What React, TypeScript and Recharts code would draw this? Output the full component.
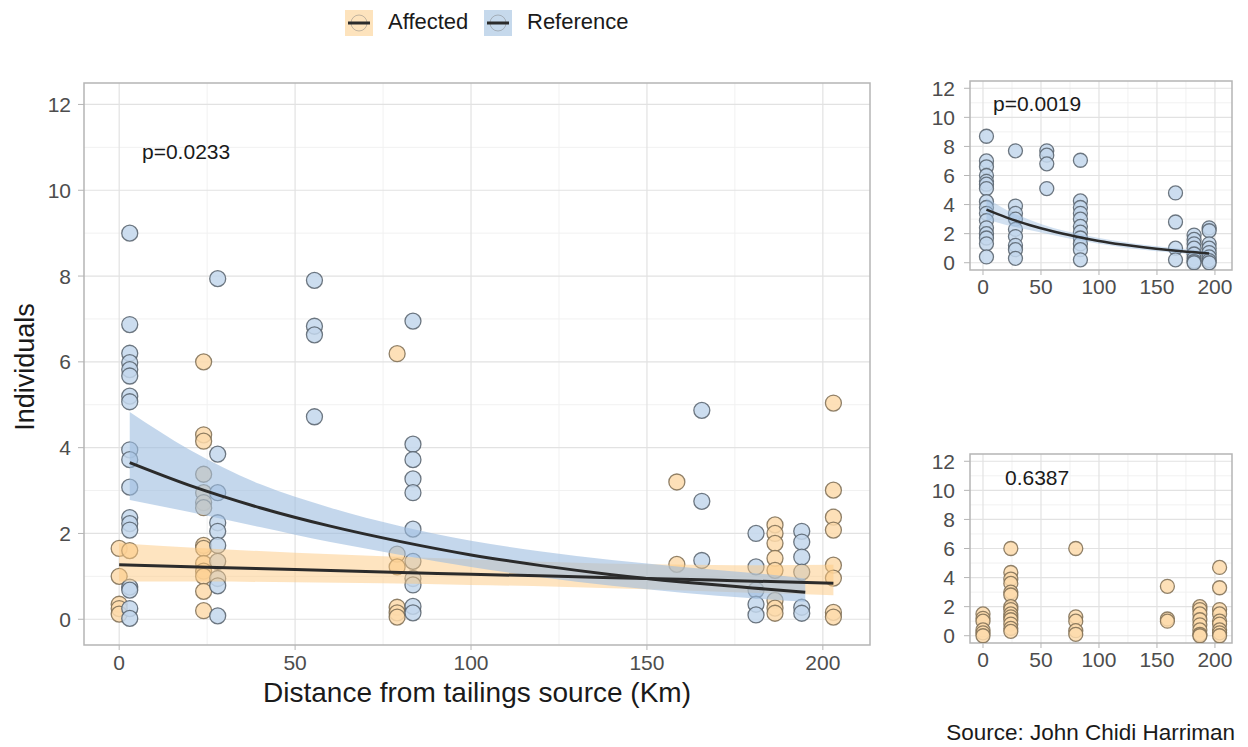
import { ComposedChart, Scatter, Line, Area, XAxis, YAxis, CartesianGrid, ReferenceArea } from 'recharts'

const FONT = '"Liberation Sans", Arial, Helvetica, sans-serif'

const xTicks = [0, 50, 100, 150, 200]
const xMinor = [25, 75, 125, 175]
const yTicks = [0, 2, 4, 6, 8, 10, 12]
const yMinor = [1, 3, 5, 7, 9, 11]

// main panel, reference sites (distance -> counts)
const refSites = [3, 28, 55.5, 83.5, 165.6, 181, 194]
const refValues = [
  [9.0, 6.87, 6.2, 5.98, 5.82, 5.67, 5.2, 5.07, 3.95, 3.72, 3.08, 2.37, 2.23, 2.08, 0.75, 0.68, 0.25, 0.02],
  [7.94, 3.85, 2.95, 2.25, 2.05, 1.72, 1.35, 0.95, 0.78, 0.08],
  [7.9, 6.83, 6.63, 4.72],
  [6.95, 4.08, 3.72, 3.27, 2.95, 2.1, 1.35, 0.95, 0.8, 0.3, 0.15],
  [4.87, 2.75, 1.37],
  [2.0, 1.22, 0.68, 0.35, 0.1],
  [2.05, 1.8, 1.45, 1.1, 0.28, 0.14],
]

// main panel, affected sites
const affSites = [0, 3, 24, 79, 158.5, 186.4, 203]
const affValues = [
  [1.65, 1.0, 0.35, 0.25, 0.12],
  [1.6],
  [6.0, 4.3, 4.15, 3.38, 2.95, 2.72, 2.6, 1.72, 1.65, 1.3, 1.12, 1.0, 0.65, 0.2],
  [6.19, 1.52, 1.22, 0.28, 0.15, 0.05],
  [3.2, 1.28],
  [2.2, 2.0, 1.77, 1.42, 1.14, 0.44, 0.26, 0.14],
  [5.04, 3.01, 2.38, 2.08, 1.26, 0.96, 0.16, 0.05],
]

// fitted curves + confidence bands
const refFitD = [3, 20, 40, 60, 80, 100, 120, 140, 160, 180, 195]
const refFit = [3.65, 3.12, 2.6, 2.17, 1.81, 1.5, 1.25, 1.04, 0.87, 0.73, 0.63]
const refLow = [2.78, 2.5, 2.15, 1.8, 1.5, 1.22, 0.98, 0.78, 0.62, 0.49, 0.41]
const refHigh = [4.83, 3.95, 3.15, 2.6, 2.17, 1.83, 1.58, 1.38, 1.22, 1.08, 0.95]

const affFitD = [0, 25, 50, 75, 100, 125, 150, 175, 203]
const affFit = [1.27, 1.21, 1.16, 1.1, 1.05, 1.0, 0.95, 0.9, 0.84]
const affLow = [0.88, 0.88, 0.86, 0.84, 0.8, 0.76, 0.7, 0.63, 0.56]
const affHigh = [1.77, 1.65, 1.55, 1.47, 1.4, 1.33, 1.28, 1.26, 1.27]

// top-right panel (reference only)
const refSmallSites = [3, 28, 55, 84, 166, 182, 195]
const refSmallValues = [
  [8.7, 7.0, 6.6, 6.0, 5.6, 5.4, 5.1, 4.2, 3.8, 3.4, 2.9, 2.4, 2.0, 1.7, 1.3, 0.4],
  [7.7, 3.9, 3.4, 3.0, 2.3, 1.8, 1.2, 0.9, 0.3],
  [7.7, 7.4, 6.8, 5.1],
  [7.05, 4.25, 3.8, 3.4, 3.0, 2.5, 2.1, 1.7, 1.3, 0.9, 0.2],
  [4.8, 2.8, 1.0, 0.2],
  [1.9, 1.6, 1.3, 1.0, 0.6, 0.3, 0.1, 0.0],
  [2.4, 2.2, 1.3, 1.0, 0.7, 0.4, 0.15, 0.0],
]
const refSmallLow = [2.95, 2.6, 2.25, 1.9, 1.58, 1.3, 1.07, 0.88, 0.72, 0.58, 0.5]
const refSmallHigh = [4.45, 3.65, 2.95, 2.4, 2.02, 1.7, 1.45, 1.22, 1.05, 0.9, 0.8]

// bottom-right panel (affected only)
const affSmallSites = [0, 24, 80, 159, 187, 204]
const affSmallValues = [
  [1.5, 1.2, 1.0, 0.4, 0.2, 0.0],
  [6.0, 4.35, 3.9, 3.6, 3.0, 2.8, 2.0, 1.8, 1.5, 1.3, 1.1, 0.8, 0.5, 0.3],
  [6.0, 1.3, 1.0, 0.35, 0.1],
  [3.4, 1.15, 1.0],
  [2.0, 1.8, 1.5, 1.1, 0.75, 0.4, 0.1, 0.0],
  [4.7, 3.3, 1.8, 1.5, 1.0, 0.8, 0.4, 0.2, 0.0],
]

const REF_FILL = '#c3d7ec'
const REF_STROKE = '#56606b'
const AFF_FILL = '#fddbab'
const AFF_STROKE = '#7d6c52'

const points = (sites: number[], values: number[][]) =>
  sites.flatMap((d, i) => values[i].map(v => ({ d, v })))

const curve = (ds: number[], fit: number[], lo: number[], hi: number[]) =>
  ds.map((d, i) => ({ d, fit: fit[i], band: [lo[i], hi[i]] }))

const dot = (fill: string, stroke: string, r: number) => (p: any) => (
  <circle cx={p.cx} cy={p.cy} r={r} fill={fill} fillOpacity={0.85} stroke={stroke} strokeOpacity={0.85} strokeWidth={1.3} />
)

type Box = { left: number; top: number; right: number; bottom: number }

type PanelProps = {
  box: Box
  xDomain: [number, number]
  yDomain: [number, number]
  fontSize: number
  yTickMargin: number
  xTickMargin: number
  dots: any[]
  overlay: any[]
}

const W = 1248
const H = 747

function Panel({ box, xDomain, yDomain, fontSize, yTickMargin, xTickMargin, dots, overlay }: PanelProps) {
  const tick = { fill: '#4d4d4d', fontSize, fontFamily: FONT }
  const yW = 60
  const xH = 40
  return (
    <>
      <div style={{ position: 'absolute', left: 0, top: 0 }}>
        <ComposedChart width={W} height={H}
          margin={{ top: box.top, left: box.left - yW, right: W - box.right, bottom: H - box.bottom - xH }}>
          <CartesianGrid horizontalValues={yMinor} verticalValues={xMinor} stroke="#f1f1f1" strokeWidth={1} />
          <CartesianGrid horizontalValues={yTicks} verticalValues={xTicks} stroke="#e2e2e2" strokeWidth={1.2} />
          <XAxis type="number" dataKey="d" domain={xDomain} allowDataOverflow ticks={xTicks} interval={0}
            axisLine={false} tickLine={{ stroke: '#b5b5b5' }} tickSize={5} tickMargin={xTickMargin}
            height={xH} tick={tick} />
          <YAxis type="number" domain={yDomain} allowDataOverflow ticks={yTicks} interval={0}
            axisLine={false} tickLine={{ stroke: '#b5b5b5' }} tickSize={6} tickMargin={yTickMargin}
            width={yW} tick={tick} />
          {dots}
          <ReferenceArea x1={xDomain[0]} x2={xDomain[1]} y1={yDomain[0]} y2={yDomain[1]}
            fill="none" stroke="#b5b5b5" strokeWidth={1.5} ifOverflow="visible" />
        </ComposedChart>
      </div>
      {overlay.length > 0 && (
        <div style={{ position: 'absolute', left: 0, top: 0 }}>
          <ComposedChart width={W} height={H}
            margin={{ top: box.top, left: box.left, right: W - box.right, bottom: H - box.bottom }}>
            <XAxis type="number" dataKey="d" domain={xDomain} allowDataOverflow hide />
            <YAxis type="number" domain={yDomain} allowDataOverflow hide />
            {overlay}
          </ComposedChart>
        </div>
      )}
    </>
  )
}

export default function App() {
  const mainXDomain: [number, number] = [-10, 213.4]
  const mainYDomain: [number, number] = [-0.6, 12.5]
  const smallXDomain: [number, number] = [-11.2, 214.7]
  const smallYDomain: [number, number] = [-0.5, 12.5]

  const refPts = points(refSites, refValues)
  const affPts = points(affSites, affValues)
  const refCurve = curve(refFitD, refFit, refLow, refHigh)
  const affCurve = curve(affFitD, affFit, affLow, affHigh)
  const refSmallPts = points(refSmallSites, refSmallValues)
  const affSmallPts = points(affSmallSites, affSmallValues)
  const refSmallCurve = curve(refFitD, refFit, refSmallLow, refSmallHigh)

  const mainDots = [
    <Scatter key="ap" data={affPts} dataKey="v" shape={dot(AFF_FILL, AFF_STROKE, 8)} isAnimationActive={false} />,
    <Scatter key="rp" data={refPts} dataKey="v" shape={dot(REF_FILL, REF_STROKE, 8)} isAnimationActive={false} />,
  ]
  const mainOverlay = [
    <Area key="ab" data={affCurve} dataKey="band" type="monotone" fill="#fdca82" fillOpacity={0.5} stroke="none" isAnimationActive={false} />,
    <Line key="al" data={affCurve} dataKey="fit" type="monotone" stroke="#2b2b2b" strokeWidth={3} dot={false} isAnimationActive={false} />,
    <Area key="rb" data={refCurve} dataKey="band" type="monotone" fill="#9cbde0" fillOpacity={0.6} stroke="none" isAnimationActive={false} />,
    <Line key="rl" data={refCurve} dataKey="fit" type="monotone" stroke="#2b2b2b" strokeWidth={3} dot={false} isAnimationActive={false} />,
  ]

  const topDots = [
    <Scatter key="rp" data={refSmallPts} dataKey="v" shape={dot(REF_FILL, REF_STROKE, 7)} isAnimationActive={false} />,
  ]
  const topOverlay = [
    <Area key="rb" data={refSmallCurve} dataKey="band" type="monotone" fill="#9cbde0" fillOpacity={0.45} stroke="none" isAnimationActive={false} />,
    <Line key="rl" data={refSmallCurve} dataKey="fit" type="monotone" stroke="#2b2b2b" strokeWidth={2.5} dot={false} isAnimationActive={false} />,
  ]

  const bottomDots = [
    <Scatter key="ap" data={affSmallPts} dataKey="v" shape={dot(AFF_FILL, AFF_STROKE, 7)} isAnimationActive={false} />,
  ]

  const swatch = (fill: string) => (
    <svg width={28} height={26} style={{ display: 'block' }}>
      <rect width={28} height={26} fill={fill} />
      <circle cx={14} cy={13} r={8} fill="none" stroke="#7a7a7a" strokeOpacity={0.45} />
      <line x1={3} x2={25} y1={13} y2={13} stroke="#2b2b2b" strokeWidth={3} />
    </svg>
  )

  const text = { position: 'absolute' as const, fontFamily: FONT, color: '#1a1a1a', whiteSpace: 'nowrap' as const }

  return (
    <div style={{ position: 'absolute', left: 0, top: 0, width: W, height: H, background: '#fff', overflow: 'hidden' }}>
      <Panel box={{ left: 84, top: 83, right: 870, bottom: 645 }} xDomain={mainXDomain} yDomain={mainYDomain}
        fontSize={21} yTickMargin={7} xTickMargin={5} dots={mainDots} overlay={mainOverlay} />
      <Panel box={{ left: 970, top: 81, right: 1232, bottom: 270 }} xDomain={smallXDomain} yDomain={smallYDomain}
        fontSize={21} yTickMargin={9} xTickMargin={4} dots={topDots} overlay={topOverlay} />
      <Panel box={{ left: 970, top: 454, right: 1232, bottom: 643 }} xDomain={smallXDomain} yDomain={smallYDomain}
        fontSize={21} yTickMargin={9} xTickMargin={4} dots={bottomDots} overlay={[]} />

      <div style={{ position: 'absolute', left: 345, top: 10 }}>{swatch('#fde3bd')}</div>
      <div style={{ ...text, left: 388, top: 9, fontSize: 22, lineHeight: '26px' }}>Affected</div>
      <div style={{ position: 'absolute', left: 484, top: 10 }}>{swatch('#c6d9ec')}</div>
      <div style={{ ...text, left: 527, top: 9, fontSize: 22, lineHeight: '26px' }}>Reference</div>

      <div style={{ ...text, left: 142, top: 139, fontSize: 21, lineHeight: '26px' }}>p=0.0233</div>
      <div style={{ ...text, left: 993, top: 91, fontSize: 21, lineHeight: '26px' }}>p=0.0019</div>
      <div style={{ ...text, left: 1005, top: 465, fontSize: 21, lineHeight: '26px' }}>0.6387</div>

      <div style={{ ...text, left: 477, top: 676, fontSize: 28, lineHeight: '34px', transform: 'translateX(-50%)' }}>
        Distance from tailings source (Km)
      </div>
      <div style={{ ...text, left: 25, top: 367, fontSize: 27, lineHeight: '34px', transform: 'translate(-50%, -50%) rotate(-90deg)' }}>
        Individuals
      </div>
      <div style={{ ...text, right: 13, top: 719, fontSize: 22.5, lineHeight: '28px' }}>Source: John Chidi Harriman</div>
    </div>
  )
}
